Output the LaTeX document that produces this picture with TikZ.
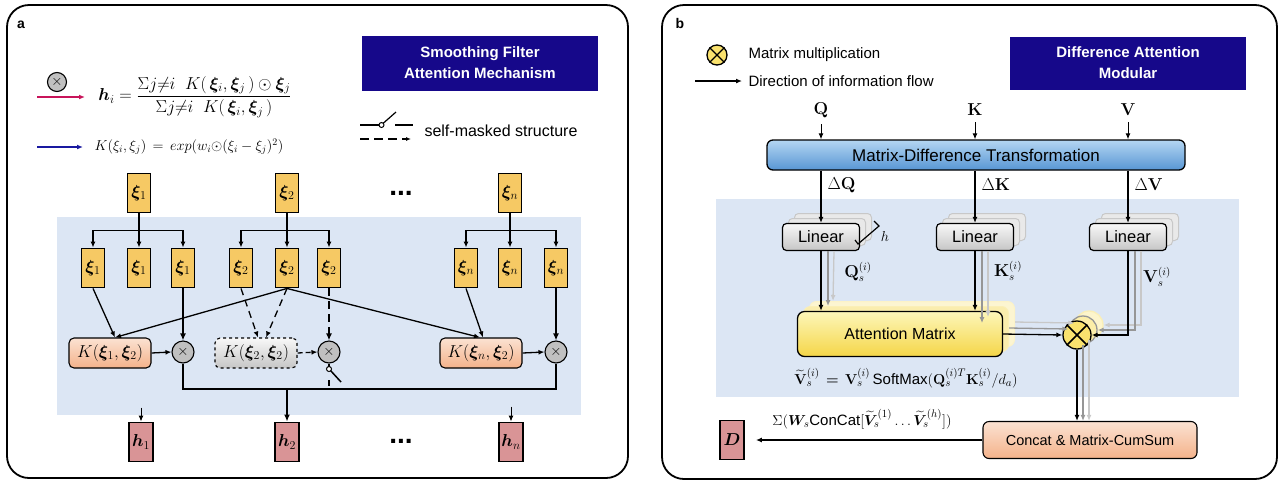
\documentclass[tikz,border=0pt]{standalone}
\usepackage[no-math]{fontspec}
\usepackage{amsmath}
\usepackage{bm}
\setmainfont{Liberation Sans}
\usetikzlibrary{arrows.meta,calc}
\definecolor{navy}{RGB}{22,8,138}
\definecolor{bgblue}{RGB}{220,230,244}
\definecolor{xifill}{RGB}{246,201,100}
\definecolor{hfill}{RGB}{217,148,150}
\definecolor{orT}{RGB}{251,226,210}
\definecolor{orB}{RGB}{244,178,138}
\definecolor{otgray}{RGB}{192,192,192}
\definecolor{yelx}{RGB}{250,226,110}
\definecolor{crimson}{RGB}{200,20,90}
\definecolor{blarr}{RGB}{25,25,160}
\definecolor{bluT}{RGB}{180,214,242}
\definecolor{bluB}{RGB}{88,150,212}
\definecolor{linT}{RGB}{248,248,248}
\definecolor{linB}{RGB}{198,198,198}
\definecolor{attT}{RGB}{253,246,185}
\definecolor{attB}{RGB}{244,214,72}
\definecolor{ghost}{RGB}{150,150,150}
\definecolor{ghost2}{RGB}{200,200,200}
\newcommand{\fsz}[2]{\fontsize{#1}{#2}\selectfont}
\tikzset{
  frame/.style={draw, line width=1.8pt, rounded corners=22pt},
  titlebox/.style={fill=navy, text=white, font=\fsz{15}{21}\bfseries, align=center, minimum width=236pt, minimum height=55pt, inner sep=0pt},
  xi/.style={draw, line width=1.9pt, fill=xifill, minimum width=23pt, minimum height=39pt, inner sep=0pt, font=\fsz{18}{20}},
  hb/.style={draw, line width=1.9pt, fill=hfill, minimum width=24pt, minimum height=39pt, inner sep=0pt, font=\fsz{18}{20}},
  kb/.style={draw, line width=1.1pt, rounded corners=5pt, top color=orT, bottom color=orB, minimum width=82pt, minimum height=30pt, inner sep=0pt, font=\fsz{16.5}{18}},
  kg/.style={draw, line width=1.1pt, dashed, rounded corners=5pt, top color=linT, bottom color=linB, minimum width=82pt, minimum height=30pt, inner sep=0pt, font=\fsz{16.5}{18}},
  ot/.style={circle, draw, line width=1.1pt, fill=otgray, minimum size=22pt, inner sep=0pt, font=\fsz{15}{15}},
  yx/.style={circle, draw, line width=1.3pt, fill=yelx, inner sep=0pt},
  lin/.style={draw, line width=1.2pt, rounded corners=4pt, top color=linT, bottom color=linB, minimum width=77pt, minimum height=27pt, inner sep=0pt, font=\fsz{16.5}{18}},
  linback/.style={draw=ghost2, line width=1pt, rounded corners=4pt, fill=linT!70!linB, minimum width=77pt, minimum height=27pt},
  att/.style={draw, line width=1.3pt, rounded corners=7pt, top color=attT, bottom color=attB, minimum width=205pt, minimum height=45pt, inner sep=0pt, font=\fsz{16}{18}},
  attback/.style={draw=attB!40, line width=1pt, rounded corners=7pt, fill=attB!45, minimum width=205pt, minimum height=45pt},
  arr/.style={-{Latex[length=6pt,width=5pt]}, line width=1.3pt},
  arrT/.style={-{Latex[length=7pt,width=6pt]}, line width=2pt},
  br/.style={line width=1.3pt},
  thk/.style={line width=2pt},
  garr/.style={-{Latex[length=6pt,width=5pt]}, line width=1.3pt, draw=ghost},
  garr2/.style={-{Latex[length=6pt,width=5pt]}, line width=1.3pt, draw=ghost2},
}
\begin{document}
\begin{tikzpicture}[x=1pt,y=-1pt]
\useasboundingbox (0,0) rectangle (1280,483);
% ================= Panel a =================
\fill[bgblue] (57,217) rectangle (581,415);
\draw[frame] (7,5) rectangle (628,478);
\node[font=\fsz{14}{16}\bfseries] (la) at (21,25) {a};
\node[titlebox] (ta) at (480,63) {Smoothing Filter\\Attention Mechanism};
% legend
\node[ot, minimum size=19pt] (lgo) at (57,82) {$\times$};
\coordinate (ra1) at (37,97);
\coordinate (ra2) at (85,97);
\draw[-{Latex[length=6pt,width=5pt]}, line width=1.5pt, crimson] (ra1) -- (ra2);
\node[font=\fsz{16.5}{18}] (hf) at (195,97) {$\bm{h}_i=\dfrac{\Sigma j{\neq} i\;\;K(\,\bm{\xi}_i,\bm{\xi}_j\,)\odot\bm{\xi}_j}{\Sigma j{\neq} i\;\;K(\,\bm{\xi}_i,\bm{\xi}_j\,)}$};
\coordinate (ba1) at (37,147);
\coordinate (ba2) at (83,147);
\draw[-{Latex[length=6pt,width=5pt]}, line width=1.5pt, blarr] (ba1) -- (ba2);
\node[font=\fsz{14.5}{16}, anchor=west] (kf) at (91,147) {$K(\xi_i,\xi_j)\,=\,exp(w_i{\odot}(\xi_i-\xi_j)^2)$};
% self-masked legend
\coordinate (sm1) at (360,125);
\coordinate (sm2) at (379,125);
\coordinate (sm3) at (396,112);
\coordinate (sm4) at (395,125);
\coordinate (sm5) at (413,125);
\coordinate (sm6) at (360,139);
\coordinate (sm7) at (411,139);
\draw[line width=1.2pt] (sm1) -- (sm2);
\draw[line width=1.2pt] (sm4) -- (sm5);
\draw[line width=1pt, fill=white] (381.5,125) circle (2.5);
\draw[line width=1.2pt] (383.3,123.2) -- (sm3);
\draw[line width=1.2pt, dash pattern=on 9pt off 5pt, -{Latex[length=5pt,width=4pt]}] (sm6) -- (sm7);
\node[anchor=west, font=\fsz{16}{18}] (smt) at (421,131) {self-masked structure};
% top xi
\node[xi] (x1) at (139,193) {$\bm{\xi}_1$};
\node[xi] (x2) at (287,193) {$\bm{\xi}_2$};
\node[xi] (xn) at (510,193) {$\bm{\xi}_n$};
\node[font=\fsz{28}{28}\bfseries] (d1) at (401,193) {...};
% second row
\node[xi] (x1a) at (93,268) {$\bm{\xi}_1$};
\node[xi] (x1b) at (139,268) {$\bm{\xi}_1$};
\node[xi] (x1c) at (183,268) {$\bm{\xi}_1$};
\node[xi] (x2a) at (241,268) {$\bm{\xi}_2$};
\node[xi] (x2b) at (287,268) {$\bm{\xi}_2$};
\node[xi] (x2c) at (329,268) {$\bm{\xi}_2$};
\node[xi] (xna) at (466,268) {$\bm{\xi}_n$};
\node[xi] (xnb) at (510,268) {$\bm{\xi}_n$};
\node[xi] (xnc) at (556,268) {$\bm{\xi}_n$};
% branches
\foreach \t/\a/\b/\c in {x1/x1a/x1b/x1c, x2/x2a/x2b/x2c, xn/xna/xnb/xnc}{
  \coordinate (\t br) at ($(\t.south)+(0,17)$);
  \draw[br] (\t.south) -- (\t br);
  \draw[arr] (\t br) -- (\b.north);
  \draw[arr] (\t br) -| (\a.north);
  \draw[arr] (\t br) -| (\c.north);
}
% third row
\node[kb] (k1) at (110,353) {$K(\bm{\xi}_1,\bm{\xi}_2)$};
\node[ot] (o1) at (183,352) {$\times$};
\node[kg] (k2) at (256,353) {$K(\bm{\xi}_2,\bm{\xi}_2)$};
\node[ot] (o2) at (329,352) {$\times$};
\node[kb] (kn) at (481,353) {$K(\bm{\xi}_n,\bm{\xi}_2)$};
\node[ot] (on) at (556,352) {$\times$};
% connectors row2 -> row3
\draw[arr] (x1a.south) -- ($(k1.north)+(5,0)$);
\draw[arrT] (x1c.south) -- (o1.north);
\draw[arr] (x2b.south) -- ($(k1.north)+(5,0)$);
\draw[arr] (x2b.south) -- ($(kn.north)+(-1,0)$);
\draw[arr, dash pattern=on 7pt off 5pt] (x2a.south) -- ($(k2.north)+(2,0)$);
\draw[arr, dash pattern=on 7pt off 5pt] (x2b.south) -- ($(k2.north)+(10,0)$);
\draw[arrT, dash pattern=on 8pt off 5pt] (x2c.south) -- (o2.north);
\draw[arr] (xna.south) -- ($(kn.north)+(2,0)$);
\draw[arrT] (xnc.south) -- (on.north);
\draw[arr] (k1.east) -- (o1.west);
\draw[arr, dash pattern=on 5pt off 3pt] (k2.east) -- (o2.west);
\draw[arr] (kn.east) -- (on.west);
% bottom collector
\coordinate (bl) at (183,389);
\draw[thk] (o1.south) -- (bl) -- (bl -| on) -- (on.south);
\coordinate (swc) at (329,369);
\coordinate (swe) at (341,382);
\coordinate (swd) at (329,380);
\draw[thk, dash pattern=on 6pt off 4pt] (swd) -- (bl -| o2);
\draw[thk] (o2.south) -- ($(swc)+(0,-2.5)$);
\draw[line width=1.5pt] ($(swc)+(1.8,1.8)$) -- (swe);
\draw[line width=1pt, fill=white] (swc) circle (2.5);
% outputs
\node[hb] (h1) at (141,442) {$\bm{h}_1$};
\node[hb] (h2) at (287,442) {$\bm{h}_2$};
\node[hb] (hn) at (511,442) {$\bm{h}_n$};
\node[font=\fsz{28}{28}\bfseries] (d2) at (401,441) {...};
\draw[arrT] (bl -| h2) -- (h2.north);
\draw[arr, line width=1pt] ($(h1.north)+(0,-14)$) -- (h1.north);
\draw[arr, line width=1pt] ($(hn.north)+(0,-15)$) -- (hn.north);
% ================= Panel b =================
\fill[bgblue] (716,199) rectangle (1239,397);
\draw[frame] (662,5) rectangle (1277,479);
\node[font=\fsz{14}{16}\bfseries] (lb) at (680,23) {b};
\node[titlebox, minimum height=53pt] (tb) at (1128,63) {Difference Attention\\Modular};
\node[yx, minimum size=20pt] (lgx) at (717,55) {};
\draw[line width=1.3pt] (lgx.north west) -- (lgx.south east) (lgx.north east) -- (lgx.south west);
\node[anchor=west, font=\fsz{15}{18}] (lgt1) at (745,55) {Matrix multiplication};
\node[anchor=west, font=\fsz{15}{18}] (lgt2) at (745,81) {Direction of information flow};
\coordinate (da1) at (695,81);
\draw[arr] (da1) -- ($(lgt2.west)+(-3,0)$);
% Q K V
\node[font=\fsz{17}{19}] (Q) at (821,110) {$\mathbf{Q}$};
\node[font=\fsz{17}{19}] (K) at (975,110) {$\mathbf{K}$};
\node[font=\fsz{17}{19}] (V) at (1128,110) {$\mathbf{V}$};
\node[draw, line width=1.3pt, rounded corners=6pt, top color=bluT, bottom color=bluB, minimum width=418pt, minimum height=30pt, inner sep=0pt, font=\fsz{17}{20}] (mdt) at (976,155) {Matrix-Difference Transformation};
\foreach \n in {Q,K,V}{
  \draw[arr, line width=1pt, shorten <=3pt] (\n.south) -- (\n.south |- mdt.north);
}
% Linear stacks
\foreach \n/\x in {lq/821, lk/975, lv/1128}{
  \node[linback] (\n3) at (\x+12,227) {};
  \node[linback] (\n2) at (\x+6,232) {};
}
\node[lin] (lq) at (821,237) {Linear};
\node[lin] (lk) at (975,237) {Linear};
\node[lin] (lv) at (1128,237) {Linear};
\draw[arr] (mdt.south -| lq) -- (lq.north);
\draw[arr] (mdt.south -| lk) -- (lk.north);
\draw[arr] (mdt.south -| lv) -- (lv.north);
\node[anchor=west, font=\fsz{16}{18}] (dq) at (824,185) {$\Delta\mathbf{Q}$};
\node[anchor=west, font=\fsz{16}{18}] (dk) at (978,185) {$\Delta\mathbf{K}$};
\node[anchor=west, font=\fsz{16}{18}] (dv) at (1131,185) {$\Delta\mathbf{V}$};
% h bracket
\coordinate (hb1) at (874,221);
\coordinate (hb2) at (879,226);
\coordinate (hb3) at (858,244);
\coordinate (hb4) at (855,240);
\draw[line width=1.2pt] (hb1) -- (hb2) -- (hb3) -- (hb4);
\node[font=\fsz{15}{17}] (hl) at (885,236) {$h$};
% Attention matrix stack
\node[attback, draw=attB!30, fill=attB!25] (am3) at (912,324) {};
\node[attback] (am2) at (906,329) {};
\node[att] (am) at (900,334) {Attention Matrix};
% big otimes stack
\node[yx, minimum size=28pt, fill=yelx!35, draw=attB!40] (bx3) at (1089,325) {};
\node[yx, minimum size=28pt, fill=yelx!60, draw=ghost] (bx2) at (1083,330) {};
\node[yx, minimum size=28pt] (bx) at (1077,335) {};
\draw[line width=1.5pt] (bx.north west) -- (bx.south east) (bx.north east) -- (bx.south west);
% Linear -> attention
\draw[garr2] ($(lq.south)+(13,0)$) -- ($(am3.north)+(-79,0)$);
\draw[garr] ($(lq.south)+(7,0)$) -- ($(am2.north)+(-78,0)$);
\draw[arr] (lq.south) -- (lq.south |- am.north);
\draw[garr2] ($(lk.south)+(13,0)$) -- ($(lk.south)+(13,66)$);
\draw[garr] ($(lk.south)+(7,0)$) -- ($(lk.south)+(7,72)$);
\draw[arr] (lk.south) -- (lk.south |- am.north);
\node[font=\fsz{16}{18}] (qsl) at (858,272) {$\mathbf{Q}_s^{(i)}$};
\node[font=\fsz{16}{18}] (ksl) at (1008,271) {$\mathbf{K}_s^{(i)}$};
\node[font=\fsz{16}{18}] (vsl) at (1157,277) {$\mathbf{V}_s^{(i)}$};
% attention -> otimes, V -> otimes
\draw[garr2] ($(am3.east)+(0,-2)$) -- ($(bx3.west)+(0,-2)$);
\draw[garr] ($(am2.east)+(0,-1)$) -- ($(bx2.west)+(0,-1)$);
\draw[arr] (am.east) -- (bx.west);
\draw[garr2] ($(lv.south)+(13,0)$) |- (bx3.east);
\draw[garr] ($(lv.south)+(7,0)$) |- (bx2.east);
\draw[arr] (lv.south) |- (bx.east);
% Concat
\node[kb, minimum width=214pt, minimum height=37pt, rounded corners=6pt, font=\fsz{14.5}{17}] (cc) at (1090,440) {Concat \& Matrix-CumSum};
\draw[garr2] (bx3.south) -- (bx3.south |- cc.north);
\draw[garr] (bx2.south) -- (bx2.south |- cc.north);
\draw[arr] (bx.south) -- (bx.south |- cc.north);
\node[font=\fsz{15}{17}] (fm) at (906,378) {$\widetilde{\mathbf{V}}_s^{(i)}\,\bm{=}\,\mathbf{V}_s^{(i)}\,\text{SoftMax}(\mathbf{Q}_s^{(i)T}\mathbf{K}_s^{(i)}/d_a)$};
% output D
\node[hb] (D) at (732,440) {$\bm{D}$};
\draw[arr] (cc.west) -- ($(D.east)+(11,0)$);
\node[font=\fsz{15}{17}] (sig) at (862,419) {$\Sigma(\bm{W}_s\text{ConCat}[\widetilde{\bm{V}}_s^{(1)}\ldots\widetilde{\bm{V}}_s^{(h)}])$};
\end{tikzpicture}
\end{document}
